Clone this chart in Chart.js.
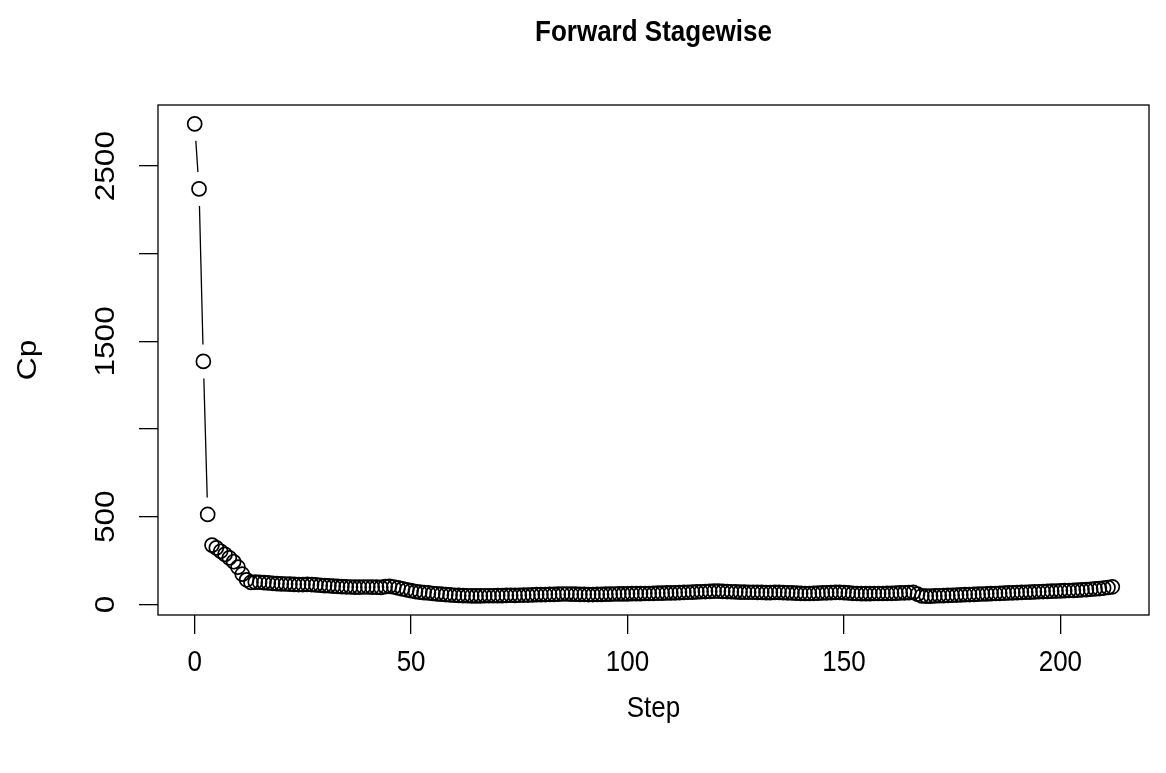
<!DOCTYPE html>
<html><head><meta charset="utf-8">
<script src="https://cdn.jsdelivr.net/npm/chart.js@4/dist/chart.umd.min.js"></script>
<style>html,body{margin:0;padding:0;background:#fff;}canvas{display:block;}</style>
</head><body>
<canvas id="c" width="1166" height="773"></canvas>
<script>
// Cp value at each step of the forward stagewise path (steps 0..212)
const cp = [
  2741, 2370, 1386, 513, 338, 322, 303, 285, 265, 243,
  212, 172, 140, 125, 127, 126, 124, 122, 120, 118,
  117, 116, 115, 114, 113, 113, 114, 113, 111, 109,
  107, 106, 104, 103, 101, 100, 99, 98, 98, 99,
  99, 98, 98, 97, 101, 103, 99, 94, 88, 83,
  78, 73, 70, 67, 65, 62, 60, 58, 56, 54,
  52, 51, 50, 49, 48, 48, 48, 49, 49, 49,
  50, 50, 51, 52, 51, 52, 53, 53, 54, 55,
  55, 56, 57, 57, 58, 59, 59, 58, 58, 57,
  57, 56, 56, 57, 57, 58, 58, 59, 60, 60,
  60, 61, 61, 61, 62, 62, 63, 64, 64, 65,
  65, 66, 67, 68, 69, 70, 71, 72, 73, 74,
  75, 76, 74, 73, 72, 71, 70, 70, 69, 69,
  68, 68, 67, 67, 68, 68, 67, 66, 65, 64,
  63, 62, 62, 63, 64, 65, 66, 67, 68, 68,
  67, 65, 63, 62, 61, 61, 61, 62, 62, 62,
  63, 63, 64, 65, 66, 67, 68, 58, 48, 47,
  47, 48, 49, 50, 51, 52, 53, 54, 55, 56,
  57, 58, 59, 60, 61, 62, 63, 64, 65, 66,
  67, 68, 69, 70, 71, 72, 73, 74, 75, 76,
  77, 78, 79, 80, 81, 83, 84, 86, 88, 90,
  93, 96, 100
];
const steps = cp.map((_, i) => i);
const xTicks = [0, 50, 100, 150, 200];
const xTickLabels = ["0", "50", "100", "150", "200"];
const yTicks = [0, 500, 1000, 1500, 2000, 2500];
const yTickLabels = ["0", "500", "", "1500", "", "2500"];
const titleText = "Forward Stagewise";
const xTitle = "Step";
const yTitle = "Cp";

const FONT = "'Liberation Sans', Arial, Helvetica, sans-serif";
const SY = 1.13;          // vertical stretch of the lettering
const pts = steps.map((s, i) => ({x: s, y: cp[i]}));

// R-style 4% axis extension
const xMinD = Math.min(...steps), xMaxD = Math.max(...steps);
const yMinD = Math.min(...cp), yMaxD = Math.max(...cp);
const xPad = 0.04 * (xMaxD - xMinD), yPad = 0.04 * (yMaxD - yMinD);

function txt(ctx, s, x, y, font, rot) {
  ctx.save();
  ctx.font = font;
  ctx.fillStyle = '#000';
  ctx.textAlign = 'center';
  ctx.textBaseline = 'middle';
  ctx.translate(x, y);
  ctx.scale(1, SY);
  if (rot) ctx.rotate(-Math.PI / 2);
  ctx.fillText(s, 0, 0);
  ctx.restore();
}

const framePlugin = {
  id: 'frame',
  afterDatasetsDraw(chart) {
    const {ctx, chartArea: a} = chart;
    ctx.save();
    ctx.strokeStyle = '#000';
    ctx.lineWidth = 1.3;
    ctx.strokeRect(a.left, a.top, a.right - a.left, a.bottom - a.top);
    ctx.restore();
  }
};
const textPlugin = {
  id: 'texts',
  afterDraw(chart) {
    const {ctx, chartArea: a} = chart;
    const xs = chart.scales.x, ys = chart.scales.y;
    const f = '26px ' + FONT;
    const fr = '28px ' + FONT;
    txt(ctx, titleText, (a.left + a.right) / 2, 33, 'bold 26px ' + FONT, false);
    xTicks.forEach((v, i) => txt(ctx, xTickLabels[i], xs.getPixelForValue(v), 663, f, false));
    yTicks.forEach((v, i) => { if (yTickLabels[i]) txt(ctx, yTickLabels[i], 106, ys.getPixelForValue(v), fr, true); });
    txt(ctx, xTitle, (a.left + a.right) / 2, 709, f, false);
    txt(ctx, yTitle, 28, (a.top + a.bottom) / 2, fr, true);
  }
};

new Chart(document.getElementById('c'), {
  type: 'line',
  data: {
    datasets: [
      { data: pts, borderColor: '#000', borderWidth: 1.3, pointRadius: 0, tension: 0, fill: false, order: 3 },
      { data: pts, showLine: false, pointRadius: 17, pointBackgroundColor: '#fff', pointBorderColor: '#fff', pointBorderWidth: 0, order: 2 },
      { data: pts, showLine: false, pointRadius: 7, pointBackgroundColor: 'rgba(0,0,0,0)', pointBorderColor: '#000', pointBorderWidth: 1.7, order: 1 }
    ]
  },
  options: {
    responsive: false,
    animation: false,
    events: [],
    layout: { padding: { left: 0, right: 0, top: 105, bottom: 0 } },
    plugins: { legend: { display: false }, tooltip: { enabled: false }, title: { display: false } },
    scales: {
      x: {
        type: 'linear',
        min: xMinD - xPad, max: xMaxD + xPad,
        afterFit(s) { s.height = 158; },
        afterBuildTicks(s) { s.ticks = xTicks.map(v => ({value: v})); },
        border: { display: false },
        grid: { display: true, drawOnChartArea: false, drawTicks: true, tickLength: 19, color: '#000', tickColor: '#000', tickWidth: 1.3, lineWidth: 1.3 },
        ticks: { color: 'rgba(0,0,0,0)', maxRotation: 0, minRotation: 0, autoSkip: false }
      },
      y: {
        type: 'linear',
        min: yMinD - yPad, max: yMaxD + yPad,
        afterFit(s) { s.width = 158; },
        afterBuildTicks(s) { s.ticks = yTicks.map(v => ({value: v})); },
        border: { display: false },
        grid: { display: true, drawOnChartArea: false, drawTicks: true, tickLength: 19, color: '#000', tickColor: '#000', tickWidth: 1.3, lineWidth: 1.3 },
        ticks: { color: 'rgba(0,0,0,0)' }
      }
    }
  },
  plugins: [framePlugin, textPlugin]
});
</script>
</body></html>
